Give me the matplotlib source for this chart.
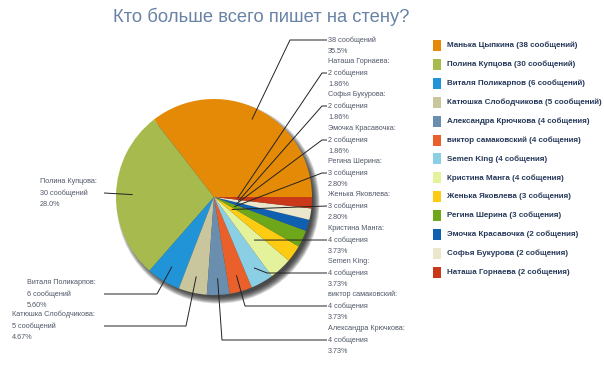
import numpy as np
import matplotlib
matplotlib.use("Agg")
import matplotlib.pyplot as plt
from matplotlib.patches import Circle, Rectangle

# --- data ---
names = ['Манька Цыпкина', 'Полина Купцова', 'Виталя Поликарпов', 'Катюшка Слободчикова',
         'Александра Крючкова', 'виктор самаковский', 'Semen King', 'Кристина Манга',
         'Женька Яковлева', 'Регина Шерина', 'Эмочка Красавочка', 'Софья Букурова',
         'Наташа Горнаева']
counts = [38, 30, 6, 5, 4, 4, 4, 4, 3, 3, 2, 2, 2]
colors = ['#e48a06', '#a6ba4e', '#2194d8', '#c9c59c', '#6a8fae', '#e9602b', '#8bcfe4',
          '#e4f29c', '#fdcb12', '#6fa71a', '#0f60b1', '#ebe7cc', '#c93818']

W, H = 604, 378
cx, cy, R = 214, 197, 98          # pie centre / radius in pixels (y from top)


def word(n):
    return 'сообщений' if n >= 5 else 'собщения'


def pct(n):
    p = n / sum(counts) * 100
    digits = 2 - int(np.floor(np.log10(p)))
    p = np.floor(p * 10 ** digits) / 10 ** digits
    return f'{p:.{digits}f}%'


fig = plt.figure(figsize=(W / 100, H / 100), dpi=100)
ax = fig.add_axes([0, 0, 1, 1])


def Y(y):
    return H - y


# soft shadow
for k in range(8):
    ax.add_patch(Circle((cx + 4, Y(cy + 5)), R + 3.5 - k * 0.9, color='#111111',
                        alpha=0.16, lw=0, zorder=1))

wedges, _ = ax.pie(counts, colors=colors, startangle=0, counterclock=True,
                   center=(cx, Y(cy)), radius=R, wedgeprops=dict(lw=0))
for w in wedges:
    w.set_zorder(2)

# --- label layout (pixels, y from top) ---
anchor_frac = [0.88, 0.83, 0.83, 0.83, 0.83, 0.83, 0.83, 0.6, 0.22, 0.23, 0.24, 0.25, 0.24]
# (text x, y of middle line, elbow point or None, side)
lab = [
    (328, 40, (290, 40), 'r'),
    (40, 193, None, 'l'),
    (27, 294, (157, 294), 'l'),
    (12, 326, (186, 326), 'l'),
    (328, 340, (222, 340), 'r'),
    (328, 306, (245, 306), 'r'),
    (328, 273, (267, 273), 'r'),
    (328, 240, None, 'r'),
    (328, 206, None, 'r'),
    (328, 173, (322, 173), 'r'),
    (328, 140, (322, 140), 'r'),
    (328, 106, (322, 106), 'r'),
    (328, 73, (322, 73), 'r'),
]

cum = np.cumsum([0] + counts)
tc = '#505868'
fs = 5.2
for i, n in enumerate(counts):
    ang = np.deg2rad((cum[i] + cum[i + 1]) / 2 / sum(counts) * 360)
    ax_ = cx + anchor_frac[i] * R * np.cos(ang)
    ay_ = cy - anchor_frac[i] * R * np.sin(ang)
    tx, ty, elbow, side = lab[i]
    end_x = tx - 1 if side == 'r' else 104
    pts = [(ax_, ay_)]
    if elbow is not None:
        pts.append(elbow)
    pts.append((end_x, ty))
    xs = [p[0] for p in pts]
    ys = [Y(p[1]) for p in pts]
    ax.plot(xs, ys, color='#222222', lw=0.7, zorder=3, solid_capstyle='butt')
    lines = [names[i] + ':', f'{n} {word(n)}', pct(n)]
    if i == 0:
        lines = lines[1:]
        offs = [0, 11.5]
    else:
        offs = [-11.5, 0, 11.5]
    for t, o in zip(lines, offs):
        ax.text(tx, Y(ty + o), t, fontsize=fs, color=tc, ha='left', va='center',
                family='Liberation Sans', zorder=4)

# --- legend ---
for i, n in enumerate(counts):
    ly = 45.5 + i * 18.9
    ax.add_patch(Rectangle((433, Y(ly + 5.5)), 8, 11, color=colors[i], lw=0, zorder=4))
    ax.text(447, Y(ly), f'{names[i]} ({n} {word(n)})', fontsize=5.8, fontweight='bold',
            color='#26395a', ha='left', va='center', family='Liberation Sans', zorder=4)

ax.text(261, Y(17), 'Кто больше всего пишет на стену?', fontsize=13.2,
        color='#6883a6', ha='center', va='center', family='Liberation Sans')

ax.set_xlim(0, W)
ax.set_ylim(0, H)
ax.set_aspect('equal')
ax.axis('off')

fig.savefig('out.png', dpi=100, facecolor='white')
